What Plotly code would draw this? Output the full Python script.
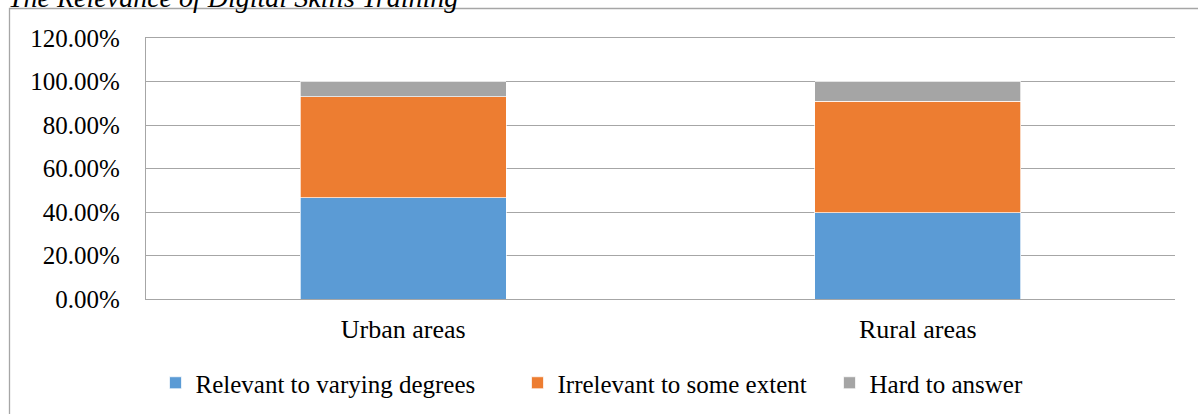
import plotly.graph_objects as go

# Survey shares by area type (stacked to 100%)
areas = ["Urban areas", "Rural areas"]
relevant = [0.466, 0.397]
irrelevant = [0.464, 0.512]
hard_to_answer = [0.070, 0.091]

series_names = ["Relevant to varying degrees", "Irrelevant to some extent", "Hard to answer"]
series_colors = ["#5b9bd5", "#ed7d31", "#a5a5a5"]

y_ticks = [0, 0.2, 0.4, 0.6, 0.8, 1.0, 1.2]
y_tick_labels = ["0.00%", "20.00%", "40.00%", "60.00%", "80.00%", "100.00%", "120.00%"]

FONT = "Liberation Serif"
GRID = "#a6a6a6"

W, H = 1198, 414
L, R, T, B = 146, 23, 38, 115
pw, ph = W - L - R, H - T - B

def px_x(x):
    return (x - L) / pw

def px_y(y):
    return (H - B - y) / ph

# each series gets its own legend box so the entries can be spaced freely;
# container coordinates keep the legends from pushing the plot margins
legend_ids = ["legend", "legend2", "legend3"]
legend_left = [155.5, 517.5, 829.5]

fig = go.Figure()
for name, vals, color, lid in zip(series_names, [relevant, irrelevant, hard_to_answer],
                                  series_colors, legend_ids):
    fig.add_trace(go.Bar(
        x=areas, y=vals, name=name, legend=lid,
        marker=dict(color=color, line=dict(color="white", width=0.7)),
    ))

legend_style = dict(
    orientation="h",
    xref="container", yref="container",
    xanchor="left",
    yanchor="middle", y=(H - 383) / H,
    font=dict(family=FONT, size=25, color="black"),
    bgcolor="rgba(0,0,0,0)",
    borderwidth=0,
)

fig.update_layout(
    width=W, height=H,
    margin=dict(l=L, r=R, t=T, b=B, pad=0, autoexpand=False),
    barmode="stack",
    bargap=0.6,
    paper_bgcolor="white",
    plot_bgcolor="white",
    font=dict(family=FONT, color="black", size=25),
    showlegend=True,
    xaxis=dict(
        showgrid=False,
        showline=True, linecolor=GRID, linewidth=1.3, mirror=True,
        ticks="",
        tickfont=dict(family=FONT, size=26, color="black"),
        ticklabelstandoff=7,
    ),
    yaxis=dict(
        range=[0, 1.2],
        tickvals=y_ticks, ticktext=y_tick_labels,
        showgrid=True, gridcolor=GRID, gridwidth=1.3,
        showline=True, linecolor=GRID, linewidth=1.3,
        zeroline=False,
        ticks="",
        tickfont=dict(family=FONT, size=25, color="black"),
        ticklabelstandoff=20,
    ),
    shapes=[
        dict(
            type="rect", xref="paper", yref="paper",
            x0=px_x(9.5), x1=px_x(1210), y0=px_y(430), y1=px_y(8.5),
            line=dict(color="#a6a6a6", width=1.3),
            fillcolor="rgba(0,0,0,0)", layer="below",
        )
    ],
    annotations=[
        dict(
            text="<i>The Relevance of Digital Skills Training</i>",
            xref="paper", yref="paper",
            x=px_x(6), y=px_y(-3),
            xanchor="left", yanchor="middle",
            showarrow=False,
            font=dict(family=FONT, size=28, color="black"),
        )
    ],
)
for lid, left in zip(legend_ids, legend_left):
    fig.update_layout({lid: dict(legend_style, x=left / W)})

fig.write_html("out.html")
